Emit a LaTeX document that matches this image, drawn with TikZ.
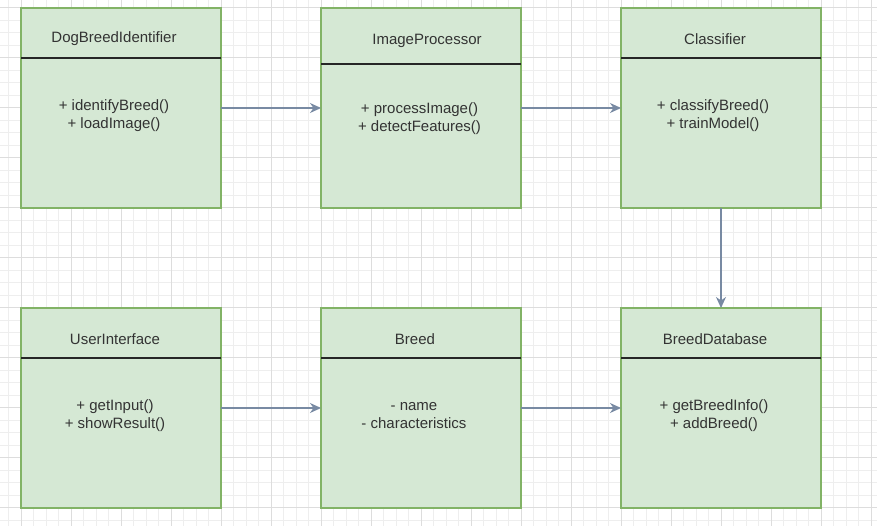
\documentclass[tikz,border=0pt]{standalone}
\usepackage{fontspec}
\setmainfont{Liberation Sans}
\usetikzlibrary{arrows.meta}
\definecolor{boxfill}{HTML}{D5E8D4}
\definecolor{boxline}{HTML}{82B366}
\definecolor{arrowcol}{HTML}{788AA3}
\definecolor{txt}{HTML}{333333}
\definecolor{gridminor}{HTML}{EEEEEE}
\definecolor{gridmajor}{HTML}{DDDDDD}
\tikzset{
  classbox/.style={draw=boxline, fill=boxfill, line width=1.2pt, minimum width=200pt, minimum height=200pt, inner sep=0pt, outer sep=0pt},
  divider/.style={draw=black!85, line width=1.3pt},
  title/.style={text=txt, font=\fontsize{15pt}{18pt}\selectfont, inner sep=0pt},
  members/.style={text=txt, font=\fontsize{15pt}{18pt}\selectfont, align=center, inner sep=0pt},
  link/.style={draw=arrowcol, line width=1.3pt, -{Stealth[length=11pt, width=10pt, inset=3.5pt]}},
}
\begin{document}
\begin{tikzpicture}[x=1pt, y=-1pt]
\useasboundingbox (0,0) rectangle (877,526);
\fill[white] (0,0) rectangle (877,526);
% grid
\foreach \i in {-2,...,69} { \draw[gridminor, line width=0.8pt] ({21.3+12.5*\i},0) -- ({21.3+12.5*\i},526); }
\foreach \j in {-1,...,42} { \draw[gridminor, line width=0.8pt] (0,{7.7+12.5*\j}) -- (877,{7.7+12.5*\j}); }
\foreach \i in {0,...,17} { \draw[gridmajor, line width=0.9pt] ({21.3+50*\i},0) -- ({21.3+50*\i},526); }
\foreach \j in {0,...,10} { \draw[gridmajor, line width=0.9pt] (0,{7.7+50*\j}) -- (877,{7.7+50*\j}); }

% boxes
\node[classbox] (dbi) at (121,108) {};
\node[classbox] (ip)  at (421,108) {};
\node[classbox] (cl)  at (721,108) {};
\node[classbox] (ui)  at (121,408) {};
\node[classbox] (br)  at (421,408) {};
\node[classbox] (bdb) at (721,408) {};

% dividers
\draw[divider] (21,58) -- (221,58);
\draw[divider] (321,64) -- (521,64);
\draw[divider] (621,58) -- (821,58);
\draw[divider] (21,358) -- (221,358);
\draw[divider] (321,358) -- (521,358);
\draw[divider] (621,358) -- (821,358);

% titles
\node[title] (t1) at (114,39) {DogBreedIdentifier};
\node[title] (t2) at (427,41) {ImageProcessor};
\node[title] (t3) at (715,39) {Classifier};
\node[title] (t4) at (115,339) {UserInterface};
\node[title] (t5) at (415,339) {Breed};
\node[title] (t6) at (715,339) {BreedDatabase};

% members
\node[members] (m1) at (114,116) {+ identifyBreed()\\+ loadImage()};
\node[members] (m2) at (419.5,119) {+ processImage()\\+ detectFeatures()};
\node[members] (m3) at (713,116) {+ classifyBreed()\\+ trainModel()};
\node[members] (m4) at (115,416) {+ getInput()\\+ showResult()};
\node[members] (m5) at (414,416) {- name\\- characteristics};
\node[members] (m6) at (714,416) {+ getBreedInfo()\\+ addBreed()};

% connectors
\draw[link] (dbi.east) -- (ip.west);
\draw[link] (ip.east) -- (cl.west);
\draw[link] (cl.south) -- (bdb.north);
\draw[link] (ui.east) -- (br.west);
\draw[link] (br.east) -- (bdb.west);
\end{tikzpicture}
\end{document}
